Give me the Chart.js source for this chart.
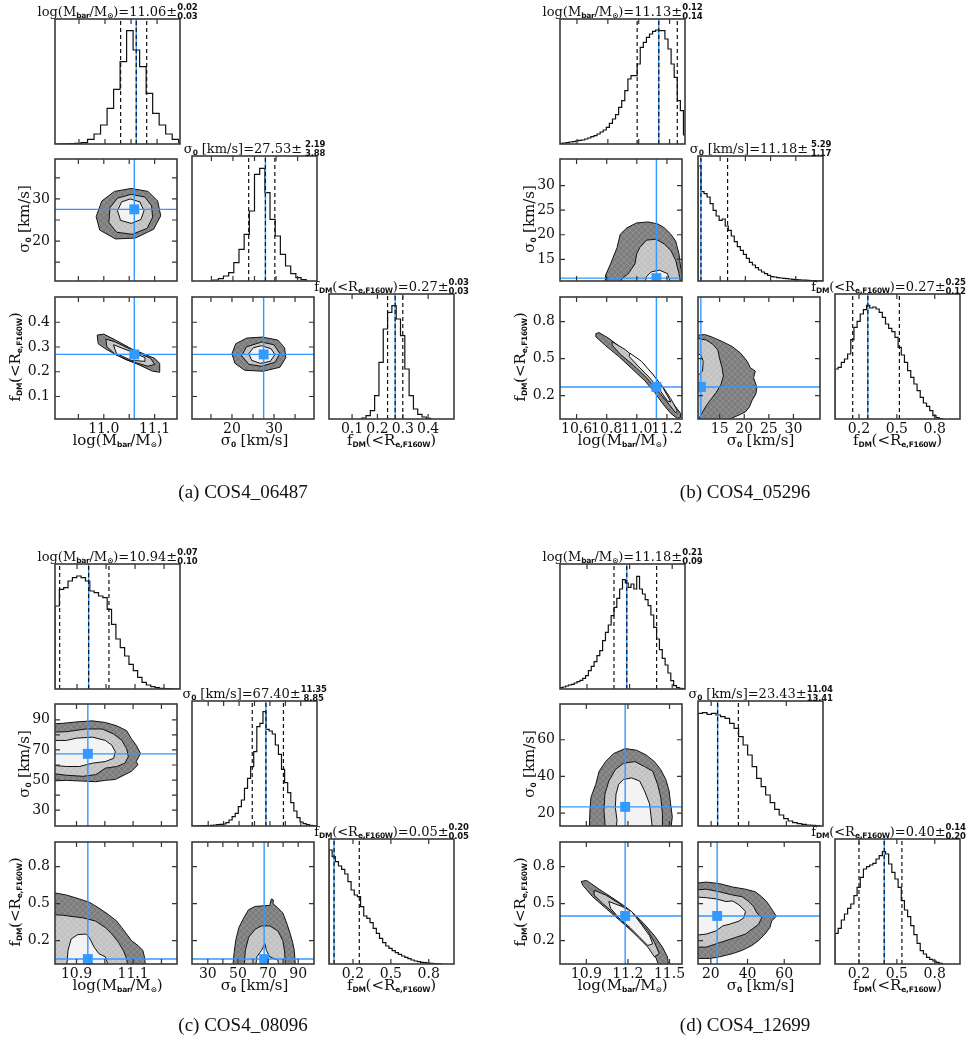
<!DOCTYPE html>
<html>
<head>
<meta charset="utf-8">
<script src="https://cdn.jsdelivr.net/npm/chart.js@4.4.1/dist/chart.umd.min.js"></script>
<style>
body { margin: 0; background: #fff; }
#fig { position: relative; width: 973px; height: 1060px; overflow: hidden; font-family: 'DejaVu Serif', serif; color: #111; }
canvas { position: absolute; }
.ttl { position: absolute; white-space: nowrap; font-size: 13px; line-height: 15px; transform: translateX(-50%); }
.ax { position: absolute; white-space: nowrap; font-size: 15px; line-height: 17px; transform: translateX(-50%); }
.ay { position: absolute; white-space: nowrap; font-size: 15px; line-height: 17px; transform: translate(-50%, -50%) rotate(-90deg); }
sub { font-family: 'DejaVu Sans', sans-serif; font-weight: bold; font-size: 7.5px; letter-spacing: -0.3px; vertical-align: -2px; line-height: 0; }
.pm { display: inline-block; font-family: 'DejaVu Sans', sans-serif; font-weight: bold; font-size: 8.5px; letter-spacing: -0.2px; line-height: 9px; vertical-align: -3px; text-align: left; }
.pm span { display: block; }
.cap { position: absolute; font-family: 'Liberation Serif', serif; font-size: 19px; white-space: nowrap; transform: translate(-50%, -50%); }
</style>
</head>
<body>
<div id="fig"></div>
<script>
// parameter order everywhere: [log Mbar, sigma0, fDM]
const PARAM_NAMES = ['log(M<sub>bar</sub>/M<sub>&#8857;</sub>)', '&sigma;<sub>0</sub> [km/s]', 'f<sub>DM</sub>(&lt;R<sub>e,F160W</sub>)'];
const CAPTIONS = ['(a) COS4_06487', '(b) COS4_05296', '(c) COS4_08096', '(d) COS4_12699'];

// ---- (a) COS4_06487 ----
const A_BEST = [11.06, 27.53, 0.27];
const A_UP = [0.02, 2.19, 0.03];
const A_LO = [0.03, 3.88, 0.03];
const A_RANGES = [[10.904, 11.144], [10.5, 39.5], [0.009, 0.502]];
const A_TICKS = [[10.95, 11.0, 11.05, 11.1], [15, 20, 25, 30, 35], [0.1, 0.2, 0.3, 0.4]];
const A_LABELS = [['', '11.0', '', '11.1'], ['', '20', '', '30', ''], ['0.1', '0.2', '0.3', '0.4']];
const A_BINS = [[10.904, 0.0125], [15.4, 1.2], [0.138, 0.017]]; // first edge, width
const A_HIST_M = [0, 0.5, 1, 2, 4, 14, 30, 57, 107, 164, 247, 340, 282, 232, 152, 92, 57, 30, 14, 4];
const A_HIST_S = [3, 7, 15, 25, 55, 95, 140, 210, 320, 338, 265, 185, 135, 80, 45, 22, 10, 4];
const A_HIST_F = [3, 10, 25, 70, 170, 270, 320, 340, 300, 250, 150, 70, 30, 14, 6, 2];
// contour levels: outer, middle, inner (x,y pairs in data units)
const A_CONT_MS = [
  [11.054,32.5, 11.087,31.8, 11.106,29.5, 11.112,26.0, 11.098,22.8, 11.062,20.7, 11.023,20.5, 10.992,22.6, 10.985,25.8, 10.996,29.5, 11.021,31.8],
  [11.054,31.1, 11.081,30.45, 11.094,28.4, 11.096,25.6, 11.085,23.0, 11.056,21.6, 11.025,22.1, 11.010,24.4, 11.012,27.9, 11.027,30.2],
  [11.052,30.0, 11.071,29.3, 11.079,27.2, 11.073,25.1, 11.054,24.2, 11.033,24.9, 11.027,27.2, 11.035,29.3]];
const A_CONT_MF = [
  [10.987,0.348, 11.000,0.352, 11.023,0.328, 11.054,0.293, 11.100,0.254, 11.110,0.234, 11.110,0.198, 11.096,0.202, 11.067,0.230, 11.042,0.250, 11.006,0.289, 10.989,0.313],
  [11.004,0.332, 11.023,0.320, 11.054,0.289, 11.092,0.254, 11.100,0.230, 11.087,0.222, 11.054,0.242, 11.023,0.269, 11.006,0.301],
  [11.019,0.309, 11.054,0.281, 11.081,0.257, 11.081,0.242, 11.054,0.246, 11.025,0.273]];
const A_CONT_SF = [
  [27.2,0.340, 30.9,0.328, 32.5,0.297, 32.8,0.257, 31.4,0.218, 27.4,0.202, 23.0,0.206, 20.7,0.234, 20.0,0.273, 20.9,0.313, 23.5,0.336],
  [27.0,0.320, 30.0,0.309, 31.4,0.273, 30.2,0.238, 27.0,0.222, 24.0,0.230, 22.3,0.265, 23.5,0.301],
  [27.0,0.305, 29.3,0.293, 30.2,0.269, 29.1,0.242, 26.7,0.234, 24.7,0.246, 24.0,0.273, 25.1,0.297]];

// ---- (b) COS4_05296 ----
const B_BEST = [11.13, 11.18, 0.27];
const B_UP = [0.12, 5.29, 0.25];
const B_LO = [0.14, 1.17, 0.12];
const B_RANGES = [[10.49, 11.30], [10.6, 35.4], [0.01, 1.0]];
const B_TICKS = [[10.6, 10.8, 11.0, 11.2], [15, 20, 25, 30], [0.2, 0.5, 0.8]];
const B_LABELS = [['10.6', '10.8', '11.0', '11.2'], ['15', '20', '25', '30'], ['0.2', '0.5', '0.8']];
const B_BINS = [[10.49, 0.02], [10.6, 0.6], [0.01, 0.025]];
const B_HIST_M = [2, 3, 4, 6, 7, 9, 11, 12, 15, 18, 22, 25, 30, 36, 42, 50, 62, 75, 88, 110, 130, 160, 195, 205, 205, 240, 290, 305, 320, 330, 338, 342, 340, 340, 315, 285, 240, 200, 130, 100, 27];
const B_HIST_S = [345, 268, 262, 252, 232, 212, 195, 182, 186, 165, 152, 135, 118, 103, 92, 80, 68, 56, 48, 40, 33, 27, 22, 17, 13, 12, 10, 9, 8, 7, 6, 5, 4, 3.5, 3, 2.5, 2, 1.5, 1, 0.5, 0.3];
const B_HIST_F = [150, 155, 170, 180, 195, 238, 275, 293, 315, 328, 341, 333, 336, 330, 320, 305, 285, 272, 262, 245, 215, 192, 170, 145, 125, 105, 85, 65, 48, 38, 25, 10, 4, 1];
const B_CONT_MS = [
  [10.789,10.0, 10.793,11.8, 10.826,14.1, 10.869,17.4, 10.89,20.1, 10.934,21.4, 10.999,22.4, 11.074,22.6, 11.139,22.2, 11.183,21.4, 11.226,20.1, 11.258,18.7, 11.28,16.1, 11.291,13.4, 11.32,10.0],
  [10.89,10.0, 10.901,11.1, 10.944,12.1, 10.988,14.1, 10.999,16.1, 11.02,17.4, 11.063,18.9, 11.128,19.1, 11.183,18.1, 11.226,16.8, 11.258,14.8, 11.28,12.1, 11.291,10.0],
  [11.053,10.0, 11.064,11.5, 11.096,12.45, 11.15,12.8, 11.204,12.1, 11.226,10.0]];
const B_CONT_MF = [
  [10.728,0.703, 10.75,0.711, 10.815,0.663, 10.901,0.584, 10.988,0.491, 11.074,0.399, 11.15,0.293, 11.204,0.20, 11.258,0.108, 11.291,0.055, 11.29,0.023, 11.269,0.015, 11.226,0.055, 11.172,0.134, 11.118,0.227, 11.053,0.32, 10.966,0.42, 10.88,0.518, 10.793,0.605, 10.728,0.677],
  [10.836,0.637, 10.923,0.573, 11.009,0.484, 11.096,0.386, 11.172,0.272, 11.226,0.174, 11.269,0.076, 11.258,0.06, 11.193,0.161, 11.128,0.253, 11.064,0.346, 10.977,0.447, 10.89,0.536, 10.836,0.61],
  [10.955,0.544, 11.031,0.478, 11.107,0.372, 11.172,0.267, 11.226,0.148, 11.204,0.156, 11.139,0.267, 11.074,0.359, 11.009,0.439, 10.949,0.518]];
const B_CONT_SF = [
  [10.0,0.69, 10.46,0.69, 11.99,0.695, 13.32,0.677, 15.62,0.637, 17.6,0.597, 19.27,0.544, 20.6,0.478, 21.25,0.425, 22.25,0.399, 21.9,0.346, 22.57,0.266, 22.37,0.214, 21.6,0.161, 21.05,0.108, 20.26,0.068, 18.93,0.042, 16.95,0.008, 16.8,-0.05, 10.0,-0.05],
  [10.0,0.669, 12.33,0.65, 13.64,0.616, 14.63,0.571, 14.97,0.504, 15.5,0.425, 15.76,0.359, 15.3,0.293, 14.31,0.227, 13.32,0.174, 12.33,0.121, 11.53,0.068, 10.86,0.016, 10.8,-0.05, 10.0,-0.05],
  [10.0,0.544, 11.13,0.531, 11.66,0.478, 11.53,0.399, 10.86,0.373, 10.0,0.373]];

// ---- (c) COS4_08096 ----
const C_BEST = [10.94, 67.40, 0.05];
const C_UP = [0.07, 11.35, 0.20];
const C_LO = [0.10, 8.85, 0.05];
const C_RANGES = [[10.824, 11.255], [19.5, 100.5], [0.01, 1.0]];
const C_TICKS = [[10.9, 11.0, 11.1, 11.2], [30, 40, 50, 60, 70, 80, 90], [0.2, 0.5, 0.8]];
const C_LABELS = [['10.9', '', '11.1', ''], ['30', '', '50', '', '70', '', '90'], ['0.2', '0.5', '0.8']];
const C_BINS = [[10.824, 0.015], [19.5, 2.0], [0.01, 0.025]];
const C_HIST_M = [249, 299, 304, 324, 334, 339, 334, 324, 294, 289, 279, 274, 239, 194, 150, 124, 99, 74, 55, 35, 20, 12, 7, 4, 2, 1, 0.5, 0, 0];
const C_HIST_S = [0, 0, 0.5, 1, 1, 1, 2, 3, 4, 5, 6, 10, 18, 28, 38, 58, 78, 113, 143, 178, 223, 298, 308, 343, 290, 285, 276, 243, 215, 170, 130, 100, 70, 45, 25, 12, 7, 4, 2, 1];
const C_HIST_F = [342, 322, 307, 294, 284, 270, 247, 222, 207, 202, 172, 144, 137, 124, 107, 92, 77, 64, 54, 47, 40, 34, 29, 24, 20, 16, 12, 9, 7, 5, 4, 3, 2, 1, 0.5, 0];
const C_CONT_MS = [
  [10.80,87.1, 10.853,87.7, 10.899,88.6, 10.956,89.3, 11.002,88.2, 11.042,86.0, 11.077,82.8, 11.094,77.4, 11.111,73.1, 11.126,67.7, 11.111,62.3, 11.117,60.1, 11.094,55.8, 11.071,53.6, 11.037,50.4, 11.002,49.8, 10.968,48.9, 10.922,49.3, 10.864,49.8, 10.80,49.3],
  [10.80,81.7, 10.864,82.1, 10.933,83.9, 10.991,83.9, 11.031,80.6, 11.06,76.3, 11.077,70.9, 11.083,65.5, 11.071,61.2, 11.042,59.0, 11.002,57.9, 10.968,53.6, 10.922,52.5, 10.864,53.2, 10.80,54.7],
  [10.80,76.3, 10.864,76.3, 10.899,77.8, 10.956,78.5, 11.002,76.3, 11.025,73.1, 11.037,68.8, 11.031,64.4, 11.002,62.3, 10.956,61.2, 10.910,59.0, 10.864,59.0, 10.80,60.1]];
const C_CONT_MF = [
  [10.80,0.596, 10.864,0.57, 10.910,0.538, 10.945,0.511, 10.979,0.464, 11.013,0.411, 11.042,0.358, 11.06,0.305, 11.077,0.253, 11.094,0.20, 11.117,0.16, 11.134,0.121, 11.140,0.068, 11.146,-0.05, 10.80,-0.05],
  [10.80,0.411, 10.853,0.406, 10.876,0.398, 10.922,0.385, 10.968,0.358, 11.002,0.305, 11.025,0.253, 11.048,0.187, 11.065,0.121, 11.077,0.055, 11.083,-0.05, 10.80,-0.05],
  [10.864,-0.05, 10.87,0.121, 10.881,0.213, 10.904,0.248, 10.933,0.253, 10.945,0.226, 10.962,0.147, 10.979,0.094, 11.002,0.068, 11.019,-0.05]];
const C_CONT_SF = [
  [46.3,-0.05, 47.4,0.094, 48.5,0.20, 50.6,0.305, 53.9,0.385, 57.1,0.451, 61.4,0.477, 66.8,0.482, 71.1,0.485, 72.2,0.538, 73.5,0.53, 73.3,0.50, 76.5,0.464, 79.8,0.424, 81.9,0.358, 84.1,0.279, 86.3,0.187, 87.4,0.121, 88.4,-0.05],
  [53.9,-0.05, 54.9,0.121, 57.1,0.226, 61.4,0.292, 65.7,0.319, 71.1,0.319, 76.5,0.279, 79.8,0.20, 80.9,0.121, 81.9,-0.05],
  [61.4,-0.05, 62.5,0.068, 65.7,0.121, 67.9,0.174, 68.9,0.121, 71.1,0.068, 76.5,0.042, 77.6,-0.05]];

// ---- (d) COS4_12699 ----
const D_BEST = [11.18, 23.43, 0.40];
const D_UP = [0.21, 11.04, 0.14];
const D_LO = [0.09, 13.41, 0.20];
const D_RANGES = [[10.71, 11.59], [13, 79.5], [0.01, 1.0]];
const D_TICKS = [[10.9, 11.2, 11.5], [20, 40, 60], [0.2, 0.5, 0.8]];
const D_LABELS = [['10.9', '11.2', '11.5'], ['20', '40', '60'], ['0.2', '0.5', '0.8']];
const D_BINS = [[10.71, 0.02], [13, 2.4], [0.01, 0.025]];
const D_HIST_M = [4, 6, 9, 12, 14, 18, 22, 26, 32, 40, 55, 68, 82, 100, 115, 145, 170, 192, 220, 245, 272, 300, 328, 318, 305, 315, 300, 338, 300, 285, 268, 250, 222, 185, 150, 118, 92, 72, 48, 25, 10, 4, 2, 1];
const D_HIST_S = [338, 340, 335, 338, 333, 328, 323, 308, 293, 268, 243, 213, 178, 143, 118, 93, 70, 50, 33, 22, 15, 10, 7, 5, 3, 2, 1];
const D_HIST_F = [92, 107, 132, 150, 167, 180, 205, 230, 260, 285, 292, 297, 302, 315, 325, 337, 330, 300, 275, 255, 230, 190, 162, 142, 115, 88, 62, 40, 30, 20, 14, 9, 5, 2];
const D_CONT_MS = [
  [10.921,10, 10.926,21.5, 10.933,28.6, 10.968,35.7, 10.992,42.8, 11.039,48.1, 11.097,52.5, 11.18,55.2, 11.262,54.3, 11.332,51.7, 11.391,48.1, 11.437,43.7, 11.473,38.4, 11.497,32.1, 11.508,25.1, 11.52,18.0, 11.508,10],
  [11.039,10, 11.027,21.5, 11.034,30.4, 11.062,37.5, 11.109,43.7, 11.168,47.2, 11.25,48.1, 11.32,45.4, 11.379,42.8, 11.414,35.7, 11.437,28.6, 11.449,19.7, 11.449,10],
  [11.114,10, 11.121,16.2, 11.109,23.3, 11.114,30.4, 11.133,35.7, 11.168,38.4, 11.226,39.2, 11.285,37.5, 11.32,32.1, 11.356,25.1, 11.367,18.0, 11.379,10]];
const D_CONT_MF = [
  [10.863,0.68, 10.902,0.688, 10.992,0.617, 11.086,0.548, 11.18,0.477, 11.25,0.411, 11.32,0.332, 11.391,0.24, 11.449,0.147, 11.485,0.068, 11.50,-0.05, 11.438,-0.05, 11.391,0.094, 11.32,0.187, 11.226,0.279, 11.133,0.372, 11.039,0.464, 10.945,0.556, 10.874,0.649],
  [10.956,0.609, 11.039,0.57, 11.133,0.504, 11.203,0.4375, 11.273,0.372, 11.344,0.279, 11.391,0.187, 11.426,0.094, 11.391,0.068, 11.344,0.147, 11.273,0.226, 11.191,0.319, 11.109,0.411, 11.015,0.504, 10.956,0.57],
  [11.062,0.517, 11.156,0.477, 11.226,0.4375, 11.297,0.332, 11.356,0.24, 11.379,0.174, 11.344,0.16, 11.285,0.226, 11.215,0.306, 11.133,0.385, 11.074,0.464]];
const D_CONT_SF = [
  [10,0.662, 17.6,0.675, 24.7,0.662, 31.8,0.635, 38.9,0.617, 44.2,0.596, 47.7,0.556, 50.4,0.517, 52.2,0.477, 55.7,0.398, 53.1,0.358, 52.2,0.306, 49.5,0.253, 46.0,0.20, 42.4,0.16, 37.1,0.121, 31.8,0.094, 24.7,0.068, 19.4,0.055, 10,0.055],
  [10,0.609, 17.6,0.617, 24.7,0.596, 31.8,0.57, 37.1,0.556, 40.7,0.517, 43.3,0.477, 45.1,0.424, 47.7,0.385, 46.0,0.332, 42.4,0.292, 38.9,0.253, 33.6,0.226, 28.3,0.20, 22.9,0.174, 17.6,0.147, 10,0.147],
  [10,0.556, 17.6,0.548, 22.9,0.538, 28.3,0.517, 31.8,0.522, 35.3,0.49, 38.9,0.4375, 38.0,0.385, 35.3,0.358, 30.0,0.332, 26.5,0.319, 22.9,0.279, 17.6,0.253, 10,0.24]];

// layout
const PANEL = 125, PADL = 50, PADT = 4, PADR = 4, PADB = 26, TICK_LEN = 5, HIST_TOP = 375;
const RIGHT_LIMIT = 966;
const BLUE = '#3399ff';
const fig = document.getElementById('fig');

function hatch(ctx, base, line) {
  const c = document.createElement('canvas');
  c.width = c.height = 6;
  const g = c.getContext('2d');
  g.fillStyle = base;
  g.fillRect(0, 0, 6, 6);
  g.strokeStyle = line;
  g.lineWidth = 0.7;
  g.beginPath();
  g.moveTo(0, 0); g.lineTo(6, 6);
  g.moveTo(6, 0); g.lineTo(0, 6);
  g.stroke();
  return ctx.createPattern(c, 'repeat');
}

const framePlugin = {
  id: 'frame',
  beforeDatasetsDraw(chart, args, opts) {
    if (!opts.contours) return;
    const { ctx, chartArea: a, scales: { x, y } } = chart;
    const fills = [hatch(ctx, '#7d7d7d', '#969696'), hatch(ctx, '#c2c2c2', '#d0d0d0'), '#f3f3f3'];
    ctx.save();
    ctx.beginPath();
    ctx.rect(a.left, a.top, a.width, a.height);
    ctx.clip();
    opts.contours.forEach((poly, k) => {
      ctx.beginPath();
      for (let i = 0; i < poly.length; i += 2) {
        const px = x.getPixelForValue(poly[i]), py = y.getPixelForValue(poly[i + 1]);
        if (i === 0) ctx.moveTo(px, py); else ctx.lineTo(px, py);
      }
      ctx.closePath();
      ctx.fillStyle = fills[k];
      ctx.fill();
      ctx.lineWidth = 1;
      ctx.strokeStyle = '#111';
      ctx.stroke();
    });
    ctx.restore();
  },
  afterDatasetsDraw(chart) {
    const { ctx, chartArea: a, scales: { x, y } } = chart;
    ctx.save();
    ctx.strokeStyle = '#333';
    ctx.lineWidth = 1.2;
    ctx.beginPath();
    x.ticks.forEach(t => {
      const p = x.getPixelForValue(t.value);
      if (p <= a.left + 1 || p >= a.right - 1) return;
      ctx.moveTo(p, a.bottom); ctx.lineTo(p, a.bottom - TICK_LEN);
      ctx.moveTo(p, a.top); ctx.lineTo(p, a.top + TICK_LEN);
    });
    y.ticks.forEach(t => {
      const p = y.getPixelForValue(t.value);
      if (p <= a.top + 1 || p >= a.bottom - 1) return;
      ctx.moveTo(a.left, p); ctx.lineTo(a.left + TICK_LEN, p);
      ctx.moveTo(a.right, p); ctx.lineTo(a.right - TICK_LEN, p);
    });
    ctx.stroke();
    ctx.strokeStyle = '#3a3a3a';
    ctx.lineWidth = 1.6;
    ctx.strokeRect(a.left, a.top, a.width, a.height);
    ctx.restore();
  }
};

function axis(pos, range, ticks, labels, show) {
  return {
    type: 'linear', position: pos, min: range[0], max: range[1], bounds: 'data',
    grid: { display: false, drawTicks: false },
    border: { display: false },
    afterBuildTicks: s => { s.ticks = ticks.map(v => ({ value: v })); },
    ticks: {
      display: show, autoSkip: false, maxRotation: 0, minRotation: 0,
      padding: pos === 'bottom' ? 2 : 5, color: '#111',
      font: { family: 'DejaVu Serif', size: 14 },
      callback: (v, i) => labels[i]
    },
    afterFit: s => {
      if (pos === 'bottom') s.height = PADB; else s.width = PADL;
      s.paddingLeft = s.paddingRight = s.paddingTop = s.paddingBottom = 0;
    }
  };
}

function line(pts, color, width, dash) {
  return { data: pts, borderColor: color, borderWidth: width, borderDash: dash || [], pointRadius: 0, fill: false, clip: 0 };
}

function histPoints(bin, counts) {
  const pts = [{ x: bin[0], y: 0 }];
  counts.forEach((c, i) => pts.push({ x: bin[0] + i * bin[1], y: c }));
  pts.push({ x: bin[0] + counts.length * bin[1], y: 0 });
  return pts;
}

function addDiv(cls, html, x, y) {
  const d = document.createElement('div');
  d.className = cls;
  d.innerHTML = html;
  d.style.left = x + 'px';
  d.style.top = y + 'px';
  fig.appendChild(d);
  return d;
}

function fmtErr(v, i) {
  const s = v.toFixed(2);
  return i === 1 ? s.padStart(5, '\u00a0') : s;
}

function corner(cols, rows, ranges, ticks, labels, bins, hists, best, up, lo, conts, caption, capX, capY) {
  for (let r = 0; r < 3; r++) {
    for (let c = 0; c <= r; c++) {
      const cv = document.createElement('canvas');
      cv.width = PANEL + PADL + PADR;
      cv.height = PANEL + PADT + PADB;
      cv.style.left = (cols[c] - PADL) + 'px';
      cv.style.top = (rows[r] - PADT) + 'px';
      fig.appendChild(cv);

      let datasets, yAxis, contours = null;
      if (r === c) {
        // draw order: histogram, blue best value, dashed percentiles
        datasets = [
          Object.assign(line(histPoints(bins[c], hists[c]), '#111', 1.2), { stepped: true }),
          line([{ x: best[c], y: 0 }, { x: best[c], y: HIST_TOP }], BLUE, 1.4)
        ];
        [best[c], best[c] - lo[c], best[c] + up[c]].forEach(v =>
          datasets.push(line([{ x: v, y: 0 }, { x: v, y: HIST_TOP }], '#111', 1.2, [4, 3])));
        yAxis = axis('left', [0, HIST_TOP], [], [], false);
      } else {
        const yr = ranges[r], xr = ranges[c];
        contours = conts[r === 1 ? 0 : c + 1];
        datasets = [
          line([{ x: best[c], y: yr[0] }, { x: best[c], y: yr[1] }], BLUE, 1.4),
          line([{ x: xr[0], y: best[r] }, { x: xr[1], y: best[r] }], BLUE, 1.4),
          { data: [{ x: best[c], y: best[r] }], showLine: false, pointStyle: 'rect', pointRadius: 7,
            pointBackgroundColor: BLUE, pointBorderColor: BLUE, pointBorderWidth: 0, clip: 0 }
        ];
        yAxis = axis('left', yr, ticks[r], labels[r], c === 0);
      }
      datasets.reverse(); // first dataset is painted last in Chart.js

      new Chart(cv, {
        type: 'line',
        data: { datasets },
        options: {
          responsive: false, animation: false, events: [], devicePixelRatio: 1,
          layout: { padding: { top: PADT, right: PADR, left: 0, bottom: 0 } },
          plugins: { legend: { display: false }, tooltip: { enabled: false }, frame: { contours } },
          scales: { x: axis('bottom', ranges[c], ticks[c], labels[c], r === 2), y: yAxis }
        },
        plugins: [framePlugin]
      });
    }
  }
  for (let i = 0; i < 3; i++) {
    const t = PARAM_NAMES[i] + '=' + best[i].toFixed(2) + '&plusmn;<span class="pm"><span>' +
      fmtErr(up[i], i) + '</span><span>' + fmtErr(lo[i], i) + '</span></span>';
    const cx = cols[i] + PANEL / 2;
    const d = addDiv('ttl', t, cx, rows[i] - 16);
    const w = d.offsetWidth;
    if (cx + w / 2 > RIGHT_LIMIT) d.style.left = (RIGHT_LIMIT - w / 2) + 'px';
    addDiv('ax', PARAM_NAMES[i], cols[i] + PANEL / 2, rows[2] + PANEL + 13);
  }
  addDiv('ay', PARAM_NAMES[1], cols[0] - 31, rows[1] + PANEL / 2);
  addDiv('ay', PARAM_NAMES[2], cols[0] - 40, rows[2] + PANEL / 2);
  addDiv('cap', caption, capX, capY);
}

corner([55, 192, 329], [19, 156, 294], A_RANGES, A_TICKS, A_LABELS, A_BINS, [A_HIST_M, A_HIST_S, A_HIST_F],
  A_BEST, A_UP, A_LO, [A_CONT_MS, A_CONT_MF, A_CONT_SF], CAPTIONS[0], 243, 492);
corner([560, 698, 835], [19, 156, 294], B_RANGES, B_TICKS, B_LABELS, B_BINS, [B_HIST_M, B_HIST_S, B_HIST_F],
  B_BEST, B_UP, B_LO, [B_CONT_MS, B_CONT_MF, B_CONT_SF], CAPTIONS[1], 745, 492);
corner([55, 192, 329], [564, 701, 839], C_RANGES, C_TICKS, C_LABELS, C_BINS, [C_HIST_M, C_HIST_S, C_HIST_F],
  C_BEST, C_UP, C_LO, [C_CONT_MS, C_CONT_MF, C_CONT_SF], CAPTIONS[2], 243, 1025);
corner([560, 698, 835], [564, 701, 839], D_RANGES, D_TICKS, D_LABELS, D_BINS, [D_HIST_M, D_HIST_S, D_HIST_F],
  D_BEST, D_UP, D_LO, [D_CONT_MS, D_CONT_MF, D_CONT_SF], CAPTIONS[3], 745, 1025);
</script>
</body>
</html>
